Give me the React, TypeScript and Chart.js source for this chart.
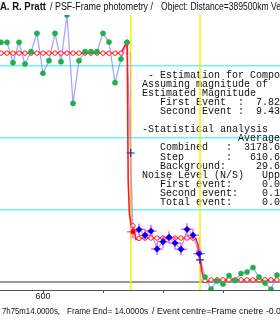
import React, { useEffect, useRef } from 'react';
import { Chart, registerables } from 'chart.js';

Chart.register(...registerables);

// ---- data (frame number, flux) ----
const preFrames = [593, 594, 595, 596, 597, 598, 599, 600, 601, 602, 603, 604, 605, 606, 607, 608, 609, 610, 611, 612, 613, 614];
const preFlux = [3329, 3329, 3046, 3329, 3028, 3199, 3454, 2899, 3074, 3454, 3060, 3708, 2482, 3074, 3199, 3199, 3199, 3454, 3333, 2768, 3097, 3329];

const edgeFrames = [615];
const edgeFlux = [699];

const stepFrames = [616, 617, 618, 619, 620, 621, 622, 623, 624, 625, 626];
const stepFlux = [729, 649, 708, 458, 560, 621, 540, 454, 731, 651, 394];

const postFrames = [627, 628, 629, 630, 631, 632, 633, 634, 635, 636, 637, 638, 639];
const postFlux = [69, -97, 14, -28, 90, 21, 118, 139, 201, 69, -14, -101, 97];

const modelFrames = [593, 594, 595, 596, 597, 598, 599, 600, 601, 602, 603, 604, 605, 606, 607, 608, 609, 610, 611, 612, 613, 613.6, 614, 614.05, 614.2, 614.4, 614.65, 615, 615.5, 616, 617, 618, 619, 620, 621, 622, 623, 624, 625, 625.5, 625.8, 626, 626.2, 626.5, 626.8, 627, 627.5, 628, 629, 630, 631, 632, 633, 634, 635, 636, 637, 638, 639];
const modelFlux = [3178.6, 3178.6, 3178.6, 3178.6, 3178.6, 3178.6, 3178.6, 3178.6, 3178.6, 3178.6, 3178.6, 3178.6, 3178.6, 3178.6, 3178.6, 3178.6, 3178.6, 3178.6, 3178.6, 3178.6, 3178.6, 3280, 3330, 3100, 1400, 950, 800, 780, 590, 605, 610.6, 610.6, 610.6, 610.6, 610.6, 610.6, 610.6, 610.6, 610.6, 600, 520, 420, 300, 140, 50, 20, 5, 29.6, 29.6, 29.6, 29.6, 29.6, 29.6, 29.6, 29.6, 29.6, 29.6, 29.6, 29.6];

const fitFrames = [592, 614.55, 614.62, 614.7, 626.05, 626.17, 626.3, 640];
const fitFlux = [3178.6, 3178.6, 1792, 610.6, 610.6, 306, 29.6, 29.6];

const eventFrames = [614.62, 626.17];
const eventFlux = [1792, 306];

// ---- axes ----
const X_MIN = 592.833;
const X_MAX = 639.5;
const xTickValues = [600, 610, 620, 630];
const xLabelledTicks = [600];
const Y_MIN = -111.1;
const Y_MAX = 3708.3;
const yGridValues = [0, 1000, 2000, 3000];

// ---- texts ----
const titleAuthor = 'A. R. Pratt';
const titleMethod = '/ PSF-Frame photometry /';
const titleObject = 'Object: Distance=389500km Ve';
const footerTime = '7h75m14.0000s,';
const footerEnd = 'Frame End= 14.0000s';
const footerCentre = '/ Event centre=Frame cnetre -0.0';

const statsLines = [
  ' - Estimation for Components',
  'Assuming magnitude of',
  'Estimated Magnitude',
  '   First Event  :  7.82',
  '   Second Event :  9.43',
  '',
  '-Statistical analysis',
  '                Average',
  '   Combined   :  3178.6',
  '   Step       :   610.6',
  '   Background:     29.6',
  'Noise Level (N/S)   Upper',
  '   First event:     0.0',
  '   Second event:    0.1',
  '   Total event:     0.0',
];

const xy = (xs: number[], ys: number[]) => xs.map((x, i) => ({ x, y: ys[i] }));

const textPlugin = {
  id: 'texts',
  beforeDatasetsDraw(chart: any) {
    const ctx = chart.ctx as CanvasRenderingContext2D;
    ctx.save();
    ctx.fillStyle = '#111';
    ctx.font = '10px "Liberation Mono", monospace';
    ctx.textBaseline = 'middle';
    ctx.textAlign = 'left';
    statsLines.forEach((line, i) => {
      ctx.fillText(line, 142, 75 + i * 9.1);
    });
    ctx.restore();
  },
  afterDraw(chart: any) {
    const ctx = chart.ctx as CanvasRenderingContext2D;
    ctx.save();
    ctx.fillStyle = '#111';
    ctx.textBaseline = 'middle';
    ctx.textAlign = 'left';
    ctx.font = 'bold 10px "Liberation Sans", Arial, sans-serif';
    ctx.fillText(titleAuthor, 0, 7, 46);
    ctx.font = '10px "Liberation Sans", Arial, sans-serif';
    ctx.fillText(titleMethod, 50, 7, 103);
    ctx.fillText(titleObject, 161, 7, 120);
    ctx.font = '9px "Liberation Sans", Arial, sans-serif';
    ctx.fillText(footerTime, 2, 311.5, 58);
    ctx.fillText(footerEnd, 67, 311.5, 81);
    ctx.fillText(footerCentre, 152, 311.5, 129);
    ctx.restore();
  },
};

export default function App() {
  const ref = useRef<HTMLCanvasElement>(null);

  useEffect(() => {
    const canvas = ref.current;
    if (!canvas) return;
    const allFrames = [...preFrames, ...edgeFrames, ...stepFrames, ...postFrames];
    const allFlux = [...preFlux, ...edgeFlux, ...stepFlux, ...postFlux];
    const vline = (x: number) => [{ x, y: Y_MIN }, { x, y: Y_MAX }];

    const chart = new Chart(canvas, {
      type: 'scatter',
      data: {
        datasets: [
          {
            data: xy(eventFrames, eventFlux),
            showLine: false,
            pointStyle: 'cross',
            pointRadius: 4,
            borderColor: '#2a2a80',
            borderWidth: 1.2,
          },
          {
            data: xy(preFrames, preFlux),
            showLine: false,
            pointStyle: 'circle',
            pointRadius: 2.6,
            backgroundColor: '#1fb04a',
            borderColor: '#1fb04a',
            borderWidth: 0.5,
          },
          {
            data: xy(postFrames, postFlux),
            showLine: false,
            pointStyle: 'circle',
            pointRadius: 2.6,
            backgroundColor: '#1fb04a',
            borderColor: '#1fb04a',
            borderWidth: 0.5,
          },
          {
            data: xy(stepFrames, stepFlux),
            showLine: false,
            pointStyle: 'rectRot',
            pointRadius: 3.2,
            backgroundColor: '#0000f0',
            borderColor: '#0000f0',
            borderWidth: 0.5,
          },
          {
            data: xy(edgeFrames, edgeFlux),
            showLine: false,
            pointStyle: 'rect',
            pointRadius: 2.8,
            backgroundColor: '#f00000',
            borderColor: '#f00000',
            borderWidth: 0.5,
          },
          {
            data: xy([...edgeFrames, ...stepFrames], [...edgeFlux, ...stepFlux]),
            showLine: false,
            pointStyle: 'cross',
            pointRadius: 6,
            borderColor: 'rgba(240,70,240,0.85)',
            borderWidth: 1.5,
          },
          {
            data: xy(modelFrames, modelFlux),
            showLine: true,
            borderColor: '#ff1a1a',
            borderWidth: 1.6,
            pointStyle: 'circle',
            pointRadius: (c: any) => (Number.isInteger(c.raw?.x) ? 2.2 : 0),
            pointBackgroundColor: '#ffffff',
            pointBorderColor: '#ff1a1a',
            pointBorderWidth: 1,
          },
          {
            data: xy(fitFrames, fitFlux),
            showLine: true,
            borderColor: 'rgba(255,130,130,0.5)',
            borderWidth: 1.3,
            pointRadius: 0,
          },
          {
            data: xy(allFrames, allFlux),
            showLine: true,
            borderColor: 'rgba(120,120,255,0.65)',
            borderWidth: 1.3,
            pointRadius: 0,
          },
          ...eventFrames.map((e) => ({
            data: vline(e),
            showLine: true,
            borderColor: '#f4f400',
            borderWidth: 1.5,
            pointRadius: 0,
          })),
        ] as any,
      },
      options: {
        animation: false,
        responsive: false,
        events: [],
        layout: { autoPadding: false, padding: { top: 15, bottom: 20.2, left: 0, right: 0 } },
        plugins: { legend: { display: false }, tooltip: { enabled: false } },
        scales: {
          x: {
            type: 'linear',
            min: X_MIN,
            max: X_MAX,
            afterBuildTicks: (s: any) => {
              s.ticks = xTickValues.map((v) => ({ value: v }));
            },
            ticks: {
              autoSkip: false,
              maxRotation: 0,
              padding: -2,
              color: '#222',
              font: { size: 9, family: '"Liberation Sans", Arial, sans-serif' },
              callback: (v: any) => (xLabelledTicks.includes(Number(v)) ? String(v) : ''),
            },
            grid: { drawOnChartArea: false, tickLength: 3, color: '#555', lineWidth: 1 },
            border: { color: '#555', width: 1 },
          },
          y: {
            type: 'linear',
            min: Y_MIN,
            max: Y_MAX,
            afterBuildTicks: (s: any) => {
              s.ticks = yGridValues.map((v) => ({ value: v }));
            },
            ticks: { display: false },
            grid: {
              drawTicks: false,
              color: (c: any) => (c.tick && c.tick.value === 0 ? '#999999' : '#66f6f6'),
              lineWidth: (c: any) => (c.tick && c.tick.value === 0 ? 2 : 1.5),
            },
            border: { display: false },
          },
        },
      } as any,
      plugins: [textPlugin],
    });
    return () => chart.destroy();
  }, []);

  return (
    <div style={{ position: 'absolute', left: 0, top: 0, width: 280, height: 320, background: '#fff' }}>
      <canvas ref={ref} width={280} height={320} style={{ display: 'block' }} />
    </div>
  );
}
